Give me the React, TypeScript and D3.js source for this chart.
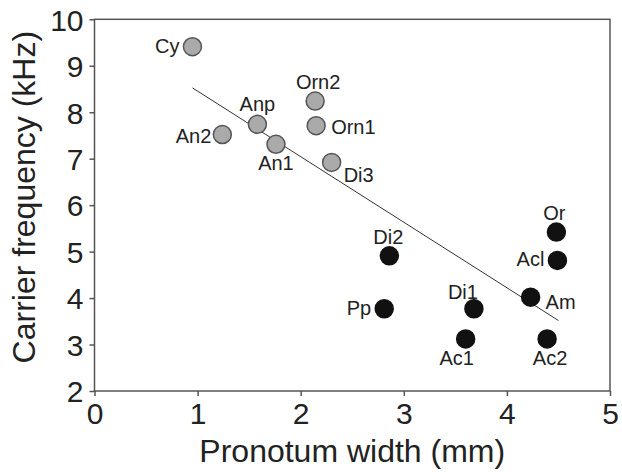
import { useEffect, useRef } from "react";
import * as d3 from "d3";

// species codes, pronotum width (mm), carrier frequency (kHz), group
const names = ["Cy", "Anp", "An2", "An1", "Orn2", "Orn1", "Di3", "Di2", "Pp", "Di1", "Ac1", "Am", "Ac2", "Or", "Acl"];
const widthMm = [0.95, 1.58, 1.24, 1.76, 2.14, 2.15, 2.3, 2.86, 2.81, 3.68, 3.6, 4.23, 4.39, 4.48, 4.49];
const freqKHz = [9.41, 7.74, 7.52, 7.31, 8.24, 7.71, 6.92, 4.91, 3.77, 3.77, 3.12, 4.02, 3.12, 5.42, 4.81];
const groups = ["g", "g", "g", "g", "g", "g", "g", "b", "b", "b", "b", "b", "b", "b", "b"];
const xTicks = [0, 1, 2, 3, 4, 5];
const yTicks = [2, 3, 4, 5, 6, 7, 8, 9, 10];

// where each label sits relative to its point: [dx, dy, anchor]
const labelPos: Record<string, [number, number, string]> = {
  Cy: [-13, 6, "end"],
  Anp: [0, -13, "middle"],
  An2: [-11, 8, "end"],
  An1: [0, 26, "middle"],
  Orn2: [3, -12, "middle"],
  Orn1: [15, 8, "start"],
  Di3: [12, 20, "start"],
  Di2: [-1, -12, "middle"],
  Pp: [-13, 6, "end"],
  Di1: [-11, -10, "middle"],
  Ac1: [-9, 26, "middle"],
  Am: [15, 12, "start"],
  Ac2: [3, 26, "middle"],
  Or: [-2, -12, "middle"],
  Acl: [-13, 6, "end"],
};

const App = () => {
  const svgRef = useRef<SVGSVGElement>(null);

  useEffect(() => {
    const w = 622;
    const h = 472;
    const svg = d3.select(svgRef.current).attr("width", w).attr("height", h);
    svg.selectAll("*").remove();

    const font = "'Liberation Sans', Arial, sans-serif";
    const x = d3.scaleLinear().domain([0, 5]).range([94.5, 610]);
    const y = d3.scaleLinear().domain([2, 10]).range([391, 19.3]);

    const data = names.map((n, i) => ({ name: n, x: widthMm[i], y: freqKHz[i], g: groups[i] }));

    // frame
    svg.append("rect")
      .attr("x", x(0)).attr("y", y(10))
      .attr("width", x(5) - x(0)).attr("height", y(2) - y(10))
      .attr("fill", "none").attr("stroke", "#555").attr("stroke-width", 1.5);

    const xAxis = d3.axisBottom(x).tickValues(xTicks).tickSize(5).tickSizeOuter(0).tickFormat(d3.format("d"));
    const gx = svg.append("g").attr("transform", `translate(0,${y(2)})`).call(xAxis);
    gx.select(".domain").remove();
    gx.selectAll("line").attr("stroke", "#555").attr("stroke-width", 1.5);
    gx.selectAll("text").attr("font-family", font).attr("font-size", 30).attr("fill", "#222").attr("dy", "0.95em").attr("y", 4);

    const yAxis = d3.axisLeft(y).tickValues(yTicks).tickSize(5).tickSizeOuter(0).tickFormat(d3.format("d"));
    const gy = svg.append("g").attr("transform", `translate(${x(0)},0)`).call(yAxis);
    gy.select(".domain").remove();
    gy.selectAll("line").attr("stroke", "#555").attr("stroke-width", 1.5);
    gy.selectAll("text").attr("font-family", font).attr("font-size", 30).attr("fill", "#222").attr("x", -11).attr("dy", "0.36em");

    // regression line
    const mx = d3.mean(widthMm)!;
    const my = d3.mean(freqKHz)!;
    const sxy = d3.sum(widthMm, (v, i) => (v - mx) * (freqKHz[i] - my));
    const sxx = d3.sum(widthMm, (v) => (v - mx) ** 2);
    const slope = sxy / sxx;
    const icpt = my - slope * mx;
    const [x0, x1] = d3.extent(widthMm) as [number, number];
    svg.append("path")
      .attr("d", d3.line()([[x(x0), y(icpt + slope * x0)], [x(x1 + 0.01), y(icpt + slope * (x1 + 0.01))]]))
      .attr("stroke", "#333").attr("stroke-width", 1).attr("fill", "none");

    svg.append("g").selectAll("circle").data(data).join("circle")
      .attr("cx", (d) => x(d.x)).attr("cy", (d) => y(d.y)).attr("r", 9)
      .attr("fill", (d) => (d.g === "g" ? "#aaaaaa" : "#111"))
      .attr("stroke", (d) => (d.g === "g" ? "#555" : "#111"))
      .attr("stroke-width", 1.5);

    svg.append("g").selectAll("text").data(data).join("text")
      .attr("x", (d) => x(d.x) + labelPos[d.name][0])
      .attr("y", (d) => y(d.y) + labelPos[d.name][1])
      .attr("text-anchor", (d) => labelPos[d.name][2])
      .attr("font-family", font).attr("font-size", 20).attr("fill", "#222")
      .text((d) => d.name);

    svg.append("text")
      .attr("x", (x(0) + x(5)) / 2).attr("y", 462)
      .attr("text-anchor", "middle").attr("font-family", font).attr("font-size", 32).attr("fill", "#222")
      .text("Pronotum width (mm)");

    svg.append("text")
      .attr("transform", `translate(35,${(y(2) + y(10)) / 2 - 8}) rotate(-90)`)
      .attr("text-anchor", "middle").attr("font-family", font).attr("font-size", 32).attr("fill", "#222")
      .text("Carrier frequency (kHz)");
  }, []);

  return (
    <svg ref={svgRef} style={{ position: "absolute", left: 0, top: 0 }}></svg>
  );
};

export default App;
